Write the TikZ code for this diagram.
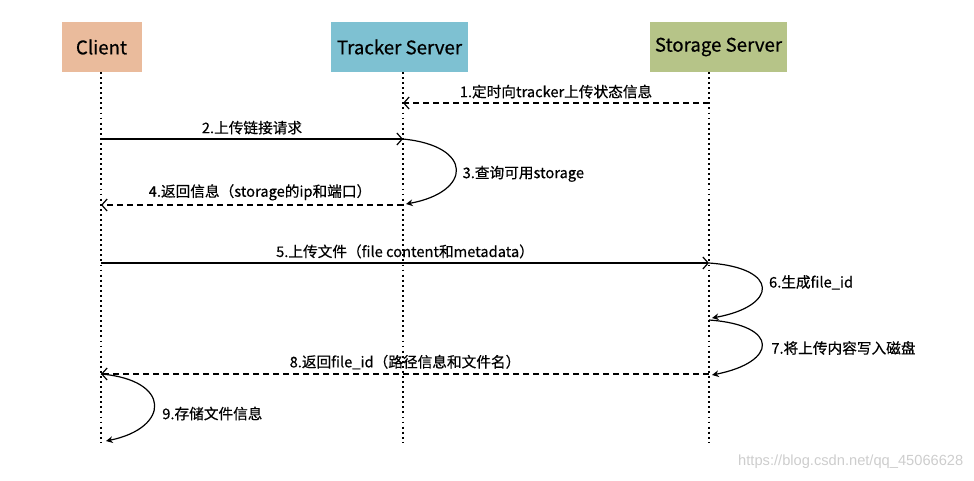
\documentclass[tikz,border=0pt]{standalone}
\usepackage{fontspec}
\setmainfont{Noto Sans CJK SC}[FakeBold=0.5]
\newfontfamily\markfont{Liberation Sans}
\usetikzlibrary{arrows.meta}
\definecolor{clientcol}{RGB}{234,187,156}
\definecolor{trackercol}{RGB}{126,193,210}
\definecolor{storagecol}{RGB}{182,196,136}
\definecolor{markcol}{RGB}{205,205,205}
\tikzset{
  actor/.style={minimum height=37pt, inner sep=0pt, font=\fontsize{14}{16}\selectfont},
  lifeline/.style={line width=1.1pt, dash pattern=on 1.4pt off 2.4pt},
  call/.style={line width=0.9pt, -{Straight Barb[length=4pt,width=9pt]}},
  reply/.style={call, dash pattern=on 4.5pt off 3pt},
  selfcall/.style={line width=0.9pt, -{Stealth[length=5pt,width=5pt]}},
  msg/.style={font=\fontsize{11}{13}\selectfont, inner sep=1pt}
}
\begin{document}
\begin{tikzpicture}[x=0.75pt,y=-0.75pt]
\useasboundingbox (0,0) rectangle (974,480);
% participants
\node[actor, fill=clientcol, minimum width=60pt] (client) at (101.5,47) {Client};
\node[actor, fill=trackercol, minimum width=103pt] (tracker) at (399.5,47) {Tracker Server};
\node[actor, fill=storagecol, minimum width=103pt] (storage) at (718.5,47) {Storage Server};
% lifelines
\foreach \name/\x in {client/101, tracker/403, storage/709} {
  \coordinate (\name-top) at (\x,72);
  \coordinate (\name-end) at (\x,442);
  \draw[lifeline] (\name-top) -- (\name-end);
}
% message ends
\coordinate (s1) at (709,103); \coordinate (t1) at (403,103);
\coordinate (c2) at (101,139); \coordinate (t2) at (403,139);
\coordinate (t3) at (406,204);
\coordinate (t4) at (403,205); \coordinate (c4) at (101,205);
\coordinate (c5) at (101,263); \coordinate (s5) at (709,263);
\coordinate (s6) at (712,318);
\coordinate (s7a) at (709,320); \coordinate (s7) at (712,375);
\coordinate (s8) at (709,374); \coordinate (c8) at (101,374);
\coordinate (c9) at (106,441);
% messages
\draw[reply] (s1) -- node[msg, above=2pt] (l1) {1.定时向tracker上传状态信息} (t1);
\draw[call] (c2) -- node[msg, above=2pt] (l2) {2.上传链接请求} (t2);
\draw[selfcall] (t2) .. controls (474,146) and (472,192) .. node[msg, pos=0.55, right=4pt] (l3) {3.查询可用storage} (t3);
\draw[reply] (t4) -- node[msg, above=2pt, xshift=6pt] (l4) {4.返回信息（storage的ip和端口）} (c4);
\draw[call] (c5) -- node[msg, above=2pt] (l5) {5.上传文件（file content和metadata）} (s5);
\draw[selfcall] (s5) .. controls (780,268) and (778,306) .. node[msg, pos=0.42, right=5pt] (l6) {6.生成file\_id} (s6);
\draw[selfcall] (s7a) .. controls (780,325) and (778,362) .. node[msg, pos=0.55, right=6pt] (l7) {7.将上传内容写入磁盘} (s7);
\draw[reply] (s8) -- node[msg, above=2pt] (l8) {8.返回file\_id（路径信息和文件名）} (c8);
\draw[selfcall] (c8) .. controls (172,380) and (170,428) .. node[msg, pos=0.6, right=6pt] (l9) {9.存储文件信息} (c9);
% watermark
\node[font=\markfont\fontsize{11}{13}\selectfont, text=markcol, anchor=east] (mark) at (968,462) {https://blog.csdn.net/qq\_45066628};
\end{tikzpicture}
\end{document}
